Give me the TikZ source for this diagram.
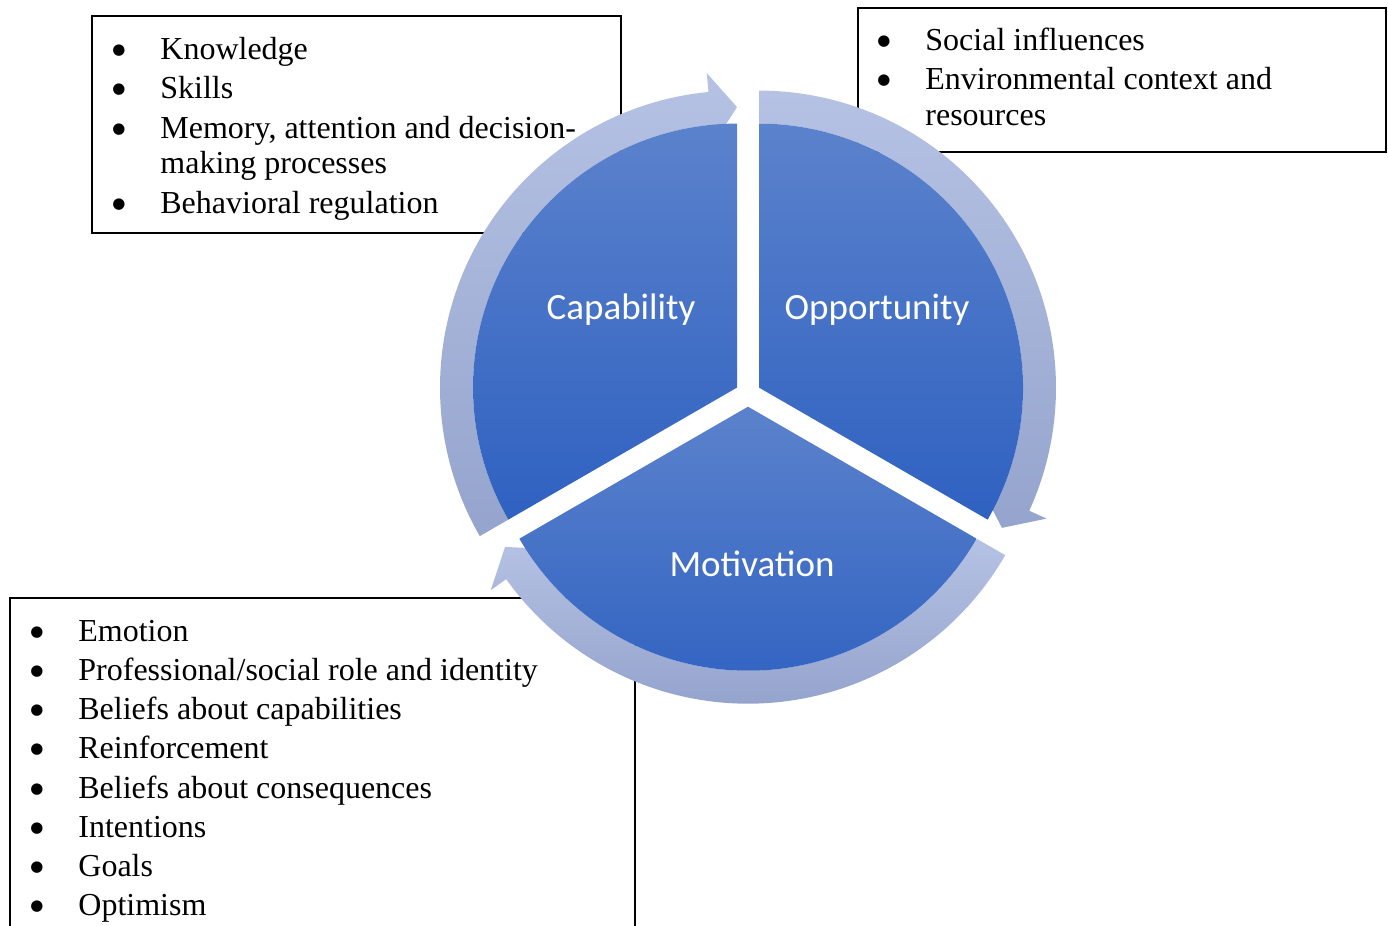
\documentclass[tikz,border=0pt]{standalone}
\usepackage{fontspec}
\setmainfont{Liberation Serif}
\newfontfamily\labfont{Carlito}
\newfontfamily\symfont{DejaVu Sans}
\definecolor{pietop}{HTML}{5B82CC}
\definecolor{piebot}{HTML}{2F61C1}
\definecolor{ringtop}{HTML}{B5C2E4}
\definecolor{ringbot}{HTML}{95A4CD}
\tikzset{
  infobox/.style={draw=black, line width=1pt, fill=white},
  itemtext/.style={anchor=base west, inner sep=0pt, font=\fontsize{16pt}{19.5pt}\selectfont},
  bulletmark/.style={anchor=center, inner sep=0pt, yshift=4.5pt, font=\symfont\fontsize{7.5pt}{9pt}\selectfont},
  pieseg/.style={top color=pietop, bottom color=piebot, draw=none},
  ringarrow/.style={top color=ringtop, bottom color=ringbot, draw=none},
  seglabel/.style={text=white, font=\labfont\fontsize{18.5pt}{22pt}\selectfont, inner sep=0pt}
}
\begin{document}
\begin{tikzpicture}[x=0.5pt, y=0.5pt]
\useasboundingbox (0,0) rectangle (1388,926);
% boxes
\draw[infobox] (92,910) rectangle (621,693);
\draw[infobox] (858,918) rectangle (1386,774);
\draw[infobox] (10,328) rectangle (635,-10);
% box 1 items
\node[bulletmark] (b1a) at (119,866) {●};
\node[itemtext] (t1a) at (160,866) {Knowledge};
\node[bulletmark] (b1b) at (119,827) {●};
\node[itemtext] (t1b) at (160,827) {Skills};
\node[bulletmark] (b1c) at (119,787) {●};
\node[itemtext] (t1c) at (160,787) {Memory, attention and decision-};
\node[itemtext] (t1d) at (160,752) {making processes};
\node[bulletmark] (b1e) at (119,712) {●};
\node[itemtext] (t1e) at (160,712) {Behavioral regulation};
% box 2 items
\node[bulletmark] (b2a) at (884,875) {●};
\node[itemtext] (t2a) at (925,875) {Social influences};
\node[bulletmark] (b2b) at (884,836) {●};
\node[itemtext] (t2b) at (925,836) {Environmental context and};
\node[itemtext] (t2c) at (925,800) {resources};
% box 3 items
\node[bulletmark] (b3a) at (37,284) {●};
\node[itemtext] (t3a) at (78,284) {Emotion};
\node[bulletmark] (b3b) at (37,245) {●};
\node[itemtext] (t3b) at (78,245) {Professional/social role and identity};
\node[bulletmark] (b3c) at (37,206) {●};
\node[itemtext] (t3c) at (78,206) {Beliefs about capabilities};
\node[bulletmark] (b3d) at (37,167) {●};
\node[itemtext] (t3d) at (78,167) {Reinforcement};
\node[bulletmark] (b3e) at (37,127) {●};
\node[itemtext] (t3e) at (78,127) {Beliefs about consequences};
\node[bulletmark] (b3f) at (37,88) {●};
\node[itemtext] (t3f) at (78,88) {Intentions};
\node[bulletmark] (b3g) at (37,49) {●};
\node[itemtext] (t3g) at (78,49) {Goals};
\node[bulletmark] (b3h) at (37,10) {●};
\node[itemtext] (t3h) at (78,10) {Optimism};
% Capability segment and arrow
\begin{scope}[shift={(737,538.4)}]
  \shade[ringarrow] (210:297) arc[start angle=210, end angle=95.5, radius=297]
    -- (95.5:316) -- (90:280.5) -- (95.5:245) -- (95.5:264)
    arc[start angle=95.5, end angle=210, radius=264] -- cycle;
  \shade[pieseg] (0,0) -- (90:264) arc[start angle=90, end angle=210, radius=264] -- cycle;
\end{scope}
% Opportunity segment and arrow
\begin{scope}[shift={(759,538.4)}]
  \shade[ringarrow] (90:297) arc[start angle=90, end angle=-24.5, radius=297]
    -- (-24.5:316) -- (-30:280.5) -- (-24.5:245) -- (-24.5:264)
    arc[start angle=-24.5, end angle=90, radius=264] -- cycle;
  \shade[pieseg] (0,0) -- (-30:264) arc[start angle=-30, end angle=90, radius=264] -- cycle;
\end{scope}
% Motivation segment and arrow
\begin{scope}[shift={(748,519.3)}]
  \shade[ringarrow] (-30:297) arc[start angle=-30, end angle=-144.5, radius=297]
    -- (-144.5:316) -- (-150:280.5) -- (-144.5:245) -- (-144.5:264)
    arc[start angle=-144.5, end angle=-30, radius=264] -- cycle;
  \shade[pieseg] (0,0) -- (210:264) arc[start angle=210, end angle=330, radius=264] -- cycle;
\end{scope}
% labels
\node[seglabel] (cap) at (621,616) {Capability};
\node[seglabel] (opp) at (877,616) {Opportunity};
\node[seglabel] (mot) at (752,362) {Motivation};
\end{tikzpicture}
\end{document}
